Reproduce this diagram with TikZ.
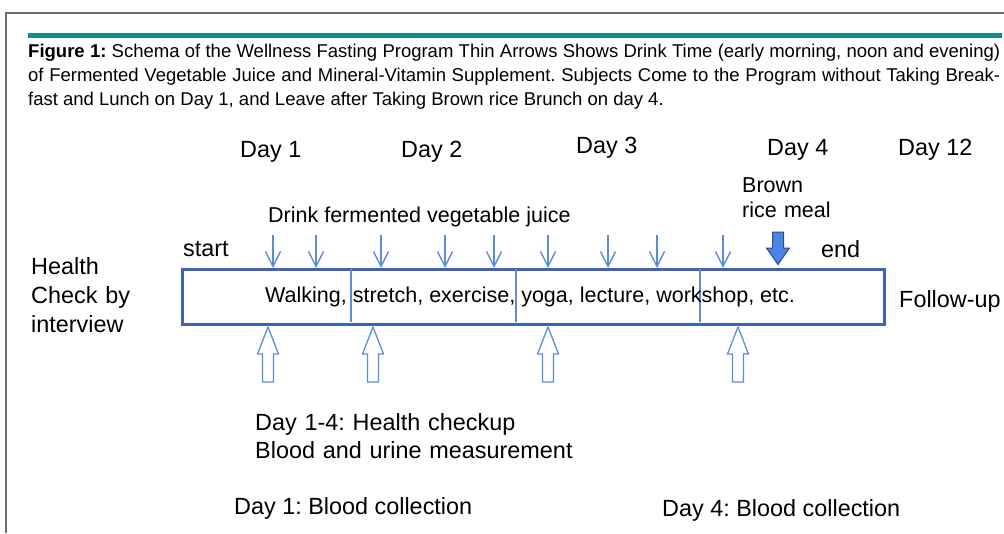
\documentclass[tikz,border=0pt]{standalone}
\usepackage{fontspec}
\setmainfont{Liberation Sans}
\usetikzlibrary{arrows.meta}
\frenchspacing

\definecolor{framegray}{HTML}{6E6E6E}
\definecolor{barteal}{HTML}{168B8E}
\definecolor{boxblue}{HTML}{4262B4}
\definecolor{lineblue}{HTML}{5B8ED6}
\definecolor{mealblue}{HTML}{4A86E8}
\definecolor{mealedge}{HTML}{2F4B85}

\begin{document}
\begin{tikzpicture}[x=1pt,y=-1pt,
    txt/.style={anchor=base west,inner sep=0pt,font=\fontsize{23.4}{29}\selectfont},
    smalltxt/.style={txt,font=\fontsize{21.5}{25}\selectfont},
    drinkarrow/.style={lineblue,line width=1.4pt,-{Straight Barb[length=15pt,width=15pt]}},
    checkarrow/.style={lineblue,line width=1.3pt,fill=white,line join=miter}]
    \useasboundingbox (0,0) rectangle (1004,533);

    % Frame and title bar
    \draw[framegray,line width=1.5pt] (6,533) -- (6,13) -- (1004,13);
    \fill[barteal] (28,33) rectangle (1002,38);

    % Caption
    \node[anchor=base west,inner sep=0pt,text width=972pt,align=justify,
          font=\fontsize{18.5}{24}\selectfont] (caption) at (28,57)
        {\hyphenpenalty=10000\exhyphenpenalty=10000
         \textbf{Figure 1:} Schema of the Wellness Fasting Program Thin Arrows Shows Drink Time (early morning, noon and evening)\linebreak
         of Fermented Vegetable Juice and Mineral-Vitamin Supplement. Subjects Come to the Program without Taking Break-\linebreak
         fast and Lunch on Day 1, and Leave after Taking Brown rice Brunch on day 4.};

    % Day labels
    \node[txt] (day1) at (240,157) {Day 1};
    \node[txt] (day2) at (401,157) {Day 2};
    \node[txt] (day3) at (576,153) {Day 3};
    \node[txt] (day4) at (767,155) {Day 4};
    \node[txt] (day12) at (898,155) {Day 12};

    \node[smalltxt,text width=120pt,align=left] (brown) at (742,192) {Brown\\rice meal};
    \node[smalltxt] (drink) at (268,222) {Drink fermented vegetable juice};
    \node[txt] (start) at (183,256) {start};
    \node[txt] (end) at (821,257) {end};

    % Timeline box with day dividers
    \node[draw=boxblue,line width=2.5pt,anchor=north west,minimum width=702pt,
          minimum height=55pt,inner sep=0pt] (timeline) at (181,268) {};
    \foreach \dx in {351,516,700}
        \draw[lineblue,line width=1.3pt] (\dx,269) -- (\dx,322);
    \node[smalltxt] (activity) at (265,302) {Walking, stretch, exercise, yoga, lecture, workshop, etc.};

    \node[txt,text width=150pt,align=left] (health) at (31,274) {Health\\Check by\\interview};
    \node[txt] (follow) at (899,307) {Follow-up};

    % Drink times (morning, noon, evening)
    \foreach \ax in {273,316,381,445,494,548,608,657,723}
        \draw[drinkarrow] (\ax,235) -- (\ax,0 |- timeline.north);

    % Brown rice meal
    \draw[mealedge,fill=mealblue,line width=1pt]
        (772.5,232) -- (783.5,232) -- (783.5,248) -- (789.5,248) -- (778,264.5)
        -- (766.5,248) -- (772.5,248) -- cycle;

    % Health checkup arrows
    \foreach \hx in {268,373,548,738}
        \draw[checkarrow] ({\hx-5.5},382) -- ({\hx+5.5},382) -- ({\hx+5.5},354)
            -- ({\hx+10.5},354) -- (\hx,327) -- ({\hx-10.5},354) -- ({\hx-5.5},354) -- cycle;

    % Measurements
    \node[txt,text width=400pt,align=left,font=\fontsize{23.4}{28}\selectfont] (checkup) at (255,430)
        {Day 1-4: Health checkup\\Blood and urine measurement};
    \node[txt] (blood1) at (234,514) {Day 1: Blood collection};
    \node[txt] (blood4) at (662,516) {Day 4: Blood collection};
\end{tikzpicture}
\end{document}
